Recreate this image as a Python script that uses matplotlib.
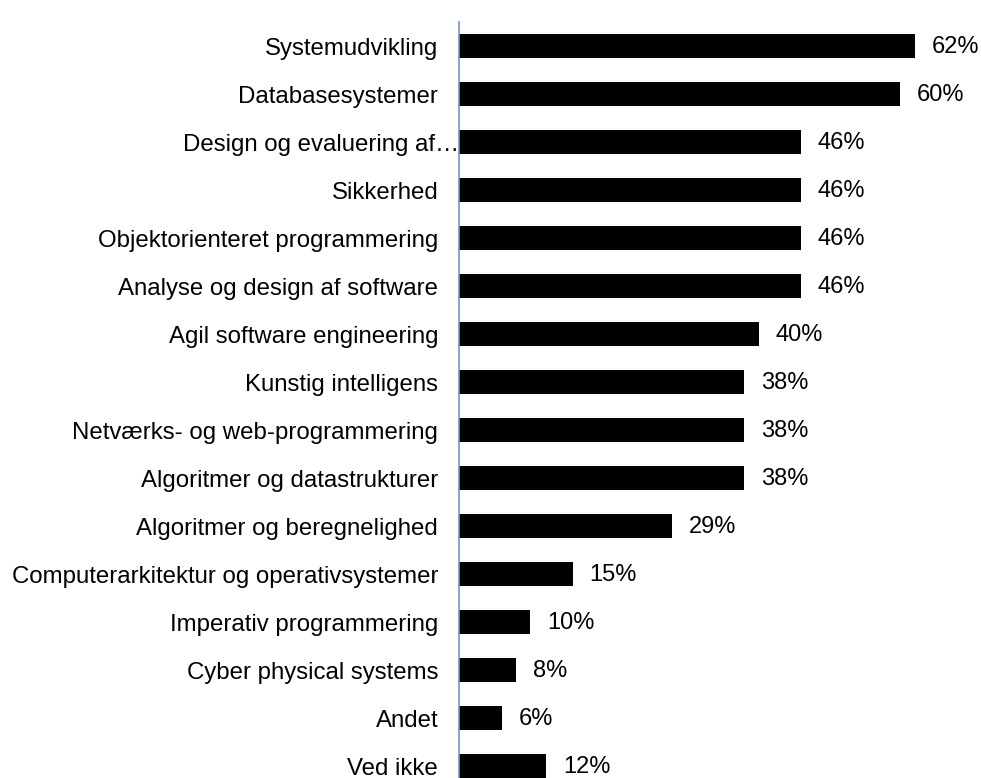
import matplotlib.pyplot as plt
import matplotlib.transforms as mtransforms

plt.rcParams['font.family'] = ['Liberation Sans', 'DejaVu Sans']

categories = [
    "Systemudvikling",
    "Databasesystemer",
    "Design og evaluering af…",
    "Sikkerhed",
    "Objektorienteret programmering",
    "Analyse og design af software",
    "Agil software engineering",
    "Kunstig intelligens",
    "Netværks- og web-programmering",
    "Algoritmer og datastrukturer",
    "Algoritmer og beregnelighed",
    "Computerarkitektur og operativsystemer",
    "Imperativ programmering",
    "Cyber physical systems",
    "Andet",
    "Ved ikke",
]
# bar lengths (percent), labels as printed
values = [62.0, 60.0, 46.5, 46.5, 46.5, 46.5, 40.8, 38.8, 38.8, 38.8,
          29.0, 15.5, 9.7, 7.8, 5.9, 11.9]
labels = ["62%", "60%", "46%", "46%", "46%", "46%", "40%", "38%", "38%", "38%",
          "29%", "15%", "10%", "8%", "6%", "12%"]

fig = plt.figure(figsize=(9.81, 7.78), dpi=100)
ax = fig.add_axes([459 / 981, 0, 1 - 459 / 981, 1 - 22 / 778])

y = list(range(len(categories)))
ax.barh(y, values, height=0.5, color="black")

for yi, v, t in zip(y, values, labels):
    ax.annotate(t, (v, yi), xytext=(12, -1), textcoords="offset points",
                va="center", ha="left", fontsize=17)

ax.set_xlim(0, (981 - 459) / 7.35)
ax.set_ylim(15.25, -0.5)
ax.set_yticks(y)
ax.set_yticklabels(categories, fontsize=17.3)
ax.tick_params(axis="y", length=0, pad=15)
ax.set_xticks([])

for s in ["top", "right", "bottom"]:
    ax.spines[s].set_visible(False)
ax.spines["left"].set_color("#6f93c6")
ax.spines["left"].set_linewidth(1.2)

# the cut-off label runs up to the axis line in the original
lbl = ax.get_yticklabels()[2]
lbl.set_transform(lbl.get_transform() + mtransforms.ScaledTranslation(15 / 72, 0, fig.dpi_scale_trans))

fig.savefig("out.png", dpi=100)
